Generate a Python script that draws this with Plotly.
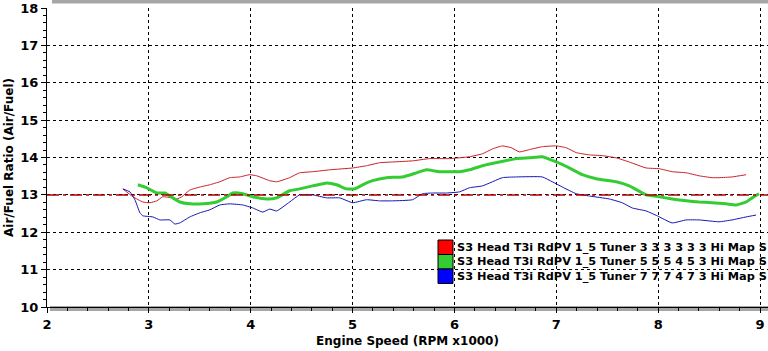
import plotly.graph_objects as go

# ---------------- data ----------------
rpm_red = [2.745, 2.843, 2.941, 3.01, 3.078, 3.137, 3.225, 3.275, 3.324, 3.402, 3.5, 3.598, 3.696, 3.794,
           3.892, 3.99, 4.059, 4.186, 4.255, 4.382, 4.48, 4.608, 4.775, 5.0, 5.137, 5.265, 5.392, 5.588,
           5.755, 5.951, 6.147, 6.275, 6.373, 6.471, 6.559, 6.637, 6.735, 6.863, 7.0, 7.098, 7.196, 7.324,
           7.451, 7.588, 7.716, 7.882, 8.01, 8.137, 8.275, 8.402, 8.529, 8.598, 8.725, 8.863]
afr_red = [13.16, 12.95, 12.81, 12.79, 12.84, 12.95, 12.92, 12.89, 12.95, 13.13, 13.21, 13.27, 13.35, 13.46,
           13.48, 13.54, 13.51, 13.38, 13.35, 13.46, 13.59, 13.62, 13.67, 13.72, 13.78, 13.86, 13.88, 13.91,
           13.97, 13.97, 14.02, 14.10, 14.23, 14.31, 14.26, 14.15, 14.21, 14.29, 14.31, 14.26, 14.13, 14.07,
           14.05, 13.99, 13.88, 13.72, 13.70, 13.62, 13.59, 13.51, 13.46, 13.46, 13.48, 13.54]

rpm_green = [2.892, 2.98, 3.078, 3.157, 3.235, 3.304, 3.402, 3.529, 3.667, 3.765, 3.824, 3.922, 4.02, 4.157,
             4.255, 4.382, 4.48, 4.608, 4.745, 4.843, 4.941, 5.02, 5.098, 5.196, 5.333, 5.49, 5.627, 5.725,
             5.853, 6.049, 6.147, 6.275, 6.441, 6.608, 6.735, 6.863, 7.0, 7.127, 7.255, 7.392, 7.588, 7.716,
             7.882, 8.01, 8.137, 8.275, 8.402, 8.529, 8.667, 8.765, 8.863, 8.922, 8.99]
afr_green = [13.27, 13.19, 13.05, 13.05, 12.92, 12.81, 12.76, 12.76, 12.81, 12.95, 13.05, 13.03, 12.95, 12.89,
             12.92, 13.11, 13.16, 13.24, 13.32, 13.27, 13.16, 13.16, 13.27, 13.38, 13.46, 13.48, 13.59, 13.67,
             13.62, 13.62, 13.67, 13.78, 13.88, 13.97, 13.99, 14.02, 13.88, 13.72, 13.54, 13.43, 13.35, 13.24,
             13.0, 12.95, 12.89, 12.84, 12.81, 12.79, 12.76, 12.73, 12.81, 12.92, 13.03]

rpm_blue = [2.745, 2.814, 2.863, 2.912, 2.941, 3.039, 3.108, 3.206, 3.255, 3.304, 3.402, 3.5, 3.598, 3.696,
            3.794, 3.922, 4.02, 4.118, 4.186, 4.255, 4.382, 4.48, 4.608, 4.745, 4.873, 5.0, 5.137, 5.265,
            5.392, 5.588, 5.686, 5.784, 5.922, 6.049, 6.147, 6.275, 6.471, 6.608, 6.863, 6.961, 7.059, 7.196,
            7.324, 7.52, 7.647, 7.745, 7.882, 7.99, 8.137, 8.275, 8.402, 8.598, 8.725, 8.863, 8.961]
afr_blue = [13.16, 13.08, 12.87, 12.52, 12.44, 12.41, 12.33, 12.33, 12.22, 12.25, 12.41, 12.52, 12.60, 12.73,
            12.76, 12.73, 12.65, 12.54, 12.62, 12.57, 12.81, 13.0, 13.0, 12.92, 12.92, 12.79, 12.87, 12.84,
            12.84, 12.87, 13.03, 13.05, 13.05, 13.08, 13.19, 13.24, 13.46, 13.48, 13.48, 13.35, 13.21, 13.03,
            12.97, 12.89, 12.79, 12.65, 12.57, 12.44, 12.25, 12.33, 12.33, 12.28, 12.33, 12.41, 12.46]

series_names = [
    "S3 Head T3i RdPV 1_5 Tuner 3 3 3 3 3 3 Hi Map S",
    "S3 Head T3i RdPV 1_5 Tuner 5 5 5 4 5 3 Hi Map S",
    "S3 Head T3i RdPV 1_5 Tuner 7 7 7 4 7 3 Hi Map S",
]
target_afr = 13.0
x_range = [2, 9.078]
y_range = [10, 18]
x_ticks = [2, 3, 4, 5, 6, 7, 8, 9]
y_ticks = [10, 11, 12, 13, 14, 15, 16, 17, 18]

line_colors = ["#c81e28", "#33cc33", "#1414b4"]
line_widths = [1, 3, 1]
box_colors = ["#ff0000", "#33cc33", "#0000ff"]

W, H = 768, 351
L, T, B = 47, 8, 44
PW, PH = W - L, H - T - B


def px_x(px):
    return (px - L) / PW


def px_y(py):
    return (H - B - py) / PH


fig = go.Figure()
for xs, ys, c, w, n in zip([rpm_red, rpm_green, rpm_blue], [afr_red, afr_green, afr_blue],
                           line_colors, line_widths, series_names):
    fig.add_trace(go.Scatter(x=xs, y=ys, mode="lines", name=n, showlegend=False,
                             line=dict(color=c, width=w, shape="spline", smoothing=0.4)))

font_fam = "DejaVu Sans, Verdana, sans-serif"

shapes = [
    # target line
    dict(type="line", xref="paper", yref="y", x0=0, x1=1, y0=target_afr, y1=target_afr,
         line=dict(color="#b00000", width=1.5, dash="12px,4px,3px,4px"), layer="above"),
    # top grey band
    dict(type="rect", xref="paper", yref="paper", x0=px_x(52), x1=1, y0=px_y(3.5), y1=px_y(0),
         fillcolor="#a6a6a6", line=dict(width=0), layer="below"),
    # bottom grey band
    dict(type="rect", xref="paper", yref="paper", x0=px_x(50), x1=1, y0=px_y(311), y1=px_y(306),
         fillcolor="#a6a6a6", line=dict(width=0), layer="below"),
]

annotations = []
box_top = 240
box_h = 14.5
for i, (n, bc) in enumerate(zip(series_names, box_colors)):
    y0 = box_top + i * box_h
    shapes.append(dict(type="rect", xref="paper", yref="paper",
                       x0=px_x(438), x1=px_x(453), y0=px_y(y0 + box_h), y1=px_y(y0),
                       fillcolor=bc, line=dict(color="black", width=1), layer="above"))
    annotations.append(dict(xref="paper", yref="paper", x=px_x(455), y=px_y(y0 + box_h / 2),
                            xanchor="left", yanchor="middle", text="<b>%s</b>" % n, showarrow=False,
                            font=dict(family=font_fam, size=11.3, color="black")))

axis_common = dict(showgrid=True, gridcolor="black", gridwidth=1, griddash="3px,3px",
                   zeroline=False, showline=True, linecolor="black", linewidth=1,
                   ticks="outside", ticklen=5, tickcolor="black", tickwidth=1,
                   tickfont=dict(family=font_fam, size=13, color="black"),
                   title_font=dict(family=font_fam, size=12, color="black"))

fig.update_layout(
    width=W, height=H,
    margin=dict(l=L, r=0, t=T, b=B, pad=0),
    paper_bgcolor="white", plot_bgcolor="white",
    showlegend=False,
    shapes=shapes, annotations=annotations,
    xaxis=dict(axis_common, range=x_range, tickvals=x_ticks,
               ticktext=["<b>%d</b>" % v for v in x_ticks], type="linear",
               minor=dict(dtick=0.2, ticks="outside", ticklen=3, tickcolor="black", showgrid=False),
               title=dict(text="<b>Engine Speed (RPM x1000)</b>", standoff=6), automargin=False),
    yaxis=dict(axis_common, range=y_range, tickvals=y_ticks,
               ticktext=["<b>%d</b>" % v for v in y_ticks],
               minor=dict(dtick=0.2, ticks="outside", ticklen=3, tickcolor="black", showgrid=False),
               title=dict(text="<b>Air/Fuel Ratio (Air/Fuel)</b>", standoff=4), automargin=False),
)

fig.write_html("out.html")
